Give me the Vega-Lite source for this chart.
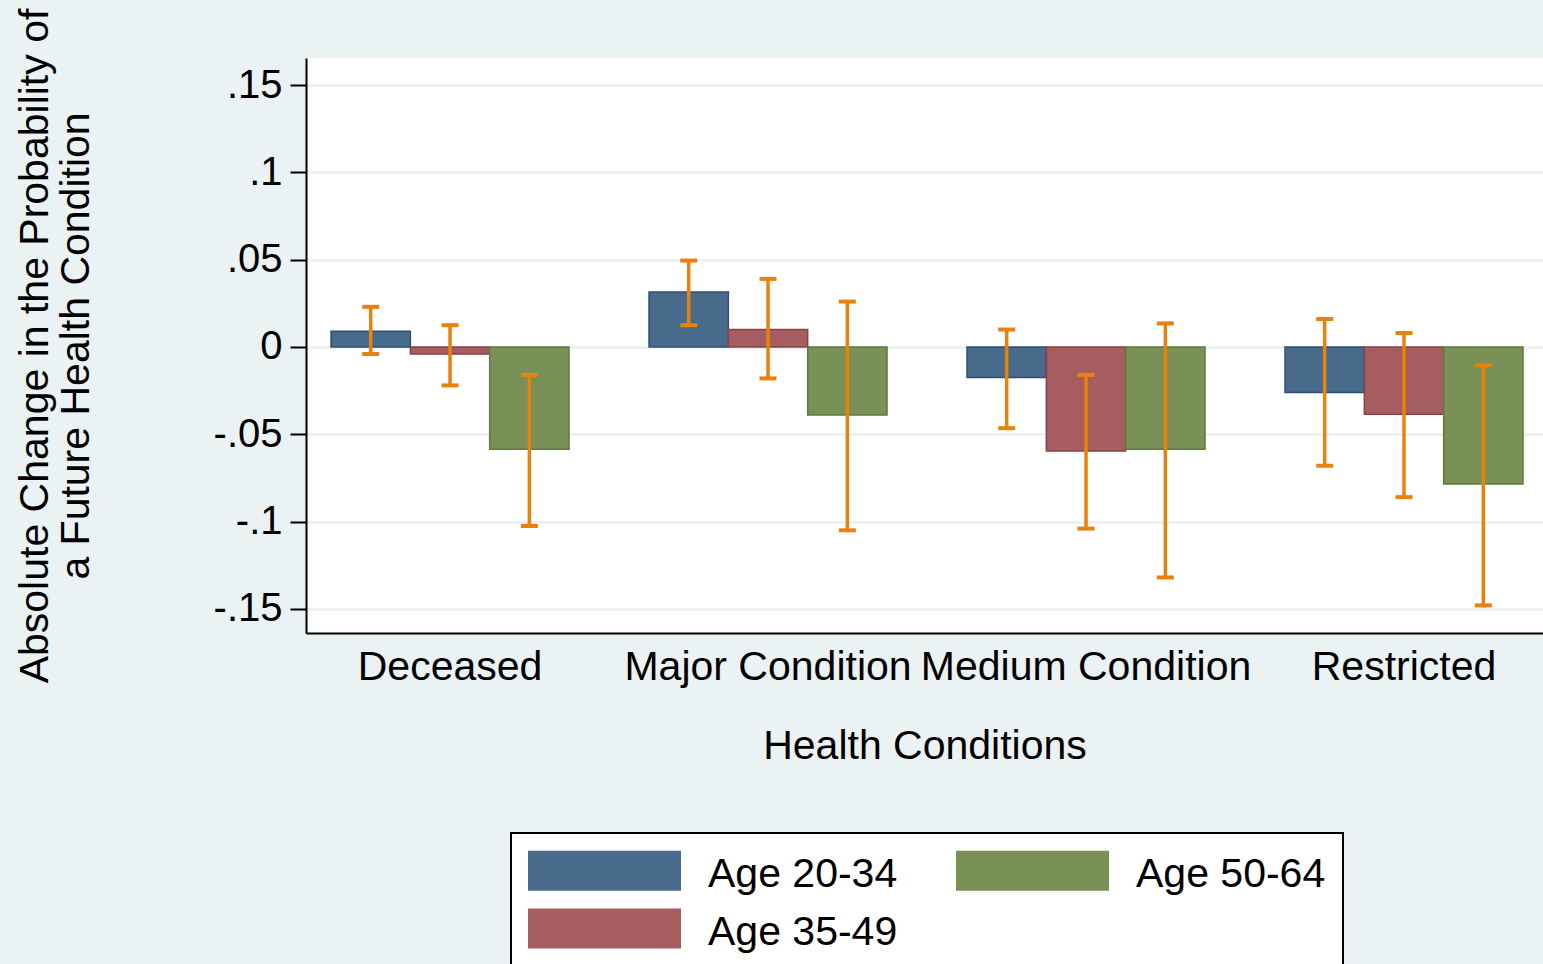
{
  "$schema": "https://vega.github.io/schema/vega-lite/v6.json",
  "width": 1237,
  "height": 575,
  "autosize": {"type": "none"},
  "padding": {"left": 306, "top": 58, "right": 0, "bottom": 331},
  "background": "#EAF2F3",
  "config": {
    "view": {"fill": "white", "stroke": null},
    "font": "Liberation Sans",
    "axisX": {
      "domainColor": "black", "domainWidth": 2, "ticks": false, "grid": false,
      "labelFontSize": 41, "labelAngle": 0, "labelPadding": 14, "labelLimit": 600, "labelColor": "black",
      "titleFontSize": 41, "titleFontWeight": "normal", "titlePadding": 39, "titleColor": "black"
    },
    "axisY": {
      "domainColor": "black", "domainWidth": 2, "tickColor": "black", "tickSize": 16, "tickWidth": 2,
      "labelFontSize": 40, "labelPadding": 8, "labelColor": "black",
      "gridColor": "#EAF2F3", "gridWidth": 3,
      "titleFontSize": 41, "titleFontWeight": "normal", "titleLineHeight": 41, "titlePadding": 116, "titleColor": "black"
    }
  },
  "data": {
    "values": [
      {"condition": "Deceased", "age": "Age 20-34", "value": 0.009, "lo": -0.004, "hi": 0.023},
      {"condition": "Deceased", "age": "Age 35-49", "value": -0.004, "lo": -0.022, "hi": 0.0125},
      {"condition": "Deceased", "age": "Age 50-64", "value": -0.0585, "lo": -0.1025, "hi": -0.016},
      {"condition": "Major Condition", "age": "Age 20-34", "value": 0.0315, "lo": 0.0125, "hi": 0.0495},
      {"condition": "Major Condition", "age": "Age 35-49", "value": 0.010, "lo": -0.018, "hi": 0.039},
      {"condition": "Major Condition", "age": "Age 50-64", "value": -0.039, "lo": -0.105, "hi": 0.026},
      {"condition": "Medium Condition", "age": "Age 20-34", "value": -0.0175, "lo": -0.0465, "hi": 0.010},
      {"condition": "Medium Condition", "age": "Age 35-49", "value": -0.0595, "lo": -0.104, "hi": -0.016},
      {"condition": "Medium Condition", "age": "Age 50-64", "value": -0.0585, "lo": -0.132, "hi": 0.0135},
      {"condition": "Restricted", "age": "Age 20-34", "value": -0.026, "lo": -0.068, "hi": 0.016},
      {"condition": "Restricted", "age": "Age 35-49", "value": -0.0385, "lo": -0.086, "hi": 0.008},
      {"condition": "Restricted", "age": "Age 50-64", "value": -0.0785, "lo": -0.148, "hi": -0.0105}
    ]
  },
  "encoding": {
    "x": {
      "field": "condition", "type": "nominal",
      "sort": ["Deceased", "Major Condition", "Medium Condition", "Restricted"],
      "scale": {"paddingInner": 0.2516, "paddingOuter": 0.0708, "align": 0.556},
      "title": "Health Conditions",
      "axis": {
        "encode": {"labels": {"update": {"dx": {"signal": "datum.value === 'Medium Condition' ? 16 : 0"}}}}
      }
    },
    "xOffset": {
      "field": "age", "type": "nominal",
      "sort": ["Age 20-34", "Age 35-49", "Age 50-64"],
      "scale": {"paddingInner": 0, "paddingOuter": 0}
    }
  },
  "layer": [
    {
      "mark": {"type": "bar", "strokeWidth": 1.5},
      "encoding": {
        "y": {
          "field": "value", "type": "quantitative",
          "scale": {"domain": [-0.1638, 0.1655], "nice": false, "zero": false},
          "axis": {
            "values": [-0.15, -0.1, -0.05, 0, 0.05, 0.1, 0.15],
            "labelExpr": "(datum.value < 0 ? '-' : '') + replace(format(abs(datum.value), '.2~f'), '0.', '.')",
            "title": ["Absolute Change in the Probability of", "a Future Health Condition"]
          }
        },
        "color": {
          "field": "age", "type": "nominal",
          "scale": {"domain": ["Age 20-34", "Age 35-49", "Age 50-64"], "range": ["#486B8C", "#A65D60", "#799156"]},
          "legend": {
            "title": null, "orient": "none", "legendX": 205, "legendY": 775, "columns": 2, "direction": "vertical",
            "fillColor": "white", "strokeColor": "black", "padding": 17,
            "labelFontSize": 41, "labelOffset": 139, "labelLimit": 500, "labelColor": "black", "rowPadding": 13, "columnPadding": 58,
            "symbolType": "M-3.825,-1H3.825V1H-3.825Z", "symbolSize": 1600, "symbolStrokeWidth": 0, "symbolOpacity": 1,
            "encode": {
              "legend": {"update": {"strokeWidth": {"value": 2}}},
              "symbols": {"update": {"x": {"value": 76.5}}},
              "labels": {"update": {"dy": {"value": 4}}}
            }
          }
        },
        "stroke": {
          "field": "age", "type": "nominal",
          "scale": {"domain": ["Age 20-34", "Age 35-49", "Age 50-64"], "range": ["#2E4F70", "#8A4048", "#5E7A3E"]},
          "legend": null
        }
      }
    },
    {
      "mark": {"type": "rule", "color": "#E8820C", "strokeWidth": 3.5},
      "encoding": {
        "y": {
          "field": "lo", "type": "quantitative",
          "axis": {
            "values": [-0.15, -0.1, -0.05, 0, 0.05, 0.1, 0.15],
            "labelExpr": "(datum.value < 0 ? '-' : '') + replace(format(abs(datum.value), '.2~f'), '0.', '.')",
            "title": ["Absolute Change in the Probability of", "a Future Health Condition"]
          }
        },
        "y2": {"field": "hi"}
      }
    },
    {
      "mark": {"type": "tick", "color": "#E8820C", "thickness": 4, "size": 17, "opacity": 1},
      "encoding": {
        "y": {
          "field": "lo", "type": "quantitative",
          "axis": {
            "values": [-0.15, -0.1, -0.05, 0, 0.05, 0.1, 0.15],
            "labelExpr": "(datum.value < 0 ? '-' : '') + replace(format(abs(datum.value), '.2~f'), '0.', '.')",
            "title": ["Absolute Change in the Probability of", "a Future Health Condition"]
          }
        }
      }
    },
    {
      "mark": {"type": "tick", "color": "#E8820C", "thickness": 4, "size": 17, "opacity": 1},
      "encoding": {
        "y": {
          "field": "hi", "type": "quantitative",
          "axis": {
            "values": [-0.15, -0.1, -0.05, 0, 0.05, 0.1, 0.15],
            "labelExpr": "(datum.value < 0 ? '-' : '') + replace(format(abs(datum.value), '.2~f'), '0.', '.')",
            "title": ["Absolute Change in the Probability of", "a Future Health Condition"]
          }
        }
      }
    }
  ]
}
